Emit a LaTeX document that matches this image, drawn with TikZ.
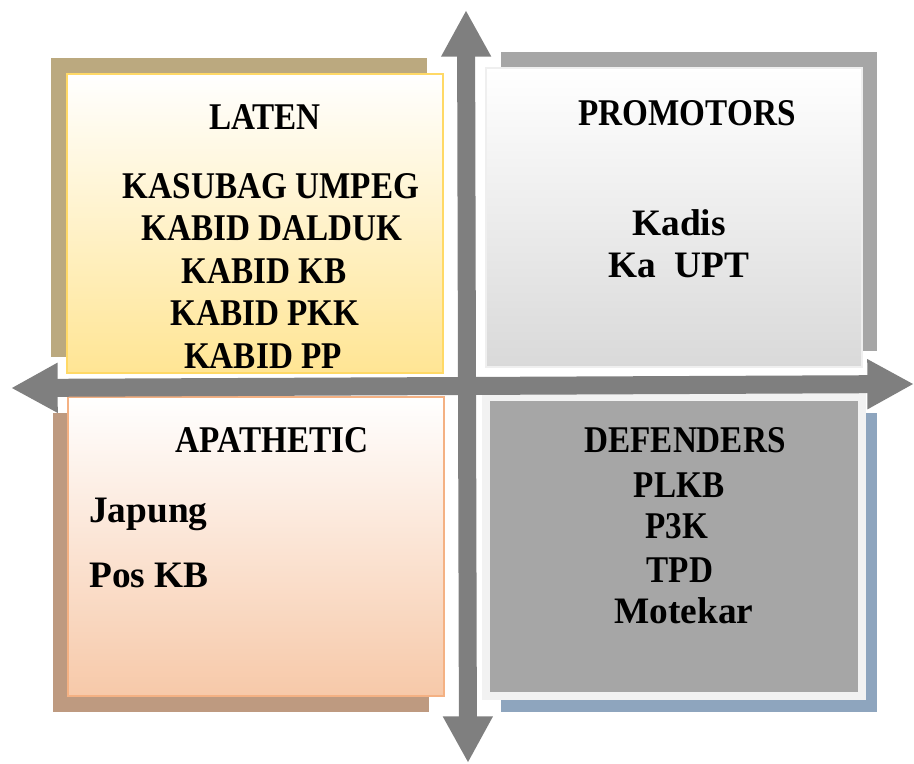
\documentclass[tikz,border=0pt]{standalone}
\usepackage{fontspec}
\setmainfont{Liberation Serif}
\newfontfamily\capsfont{Liberation Serif}[FakeStretch=0.88]
\usetikzlibrary{arrows.meta}
\definecolor{axisgray}{HTML}{7F7F7F}
\definecolor{latenshadow}{HTML}{BBA97F}
\definecolor{latenfill}{HTML}{FFE594}
\definecolor{latenborder}{HTML}{FFD966}
\definecolor{promshadow}{HTML}{A6A6A6}
\definecolor{promfill}{HTML}{D9D9D9}
\definecolor{promborder}{HTML}{EFEFEF}
\definecolor{apashadow}{HTML}{BE9A80}
\definecolor{apafill}{HTML}{F7C9A9}
\definecolor{apaborder}{HTML}{F4B183}
\definecolor{defshadow}{HTML}{8EA5BE}
\definecolor{deffill}{HTML}{A6A6A6}
\definecolor{defframe}{HTML}{F2F2F2}
\begin{document}
\begin{tikzpicture}[x=0.75pt,y=-0.75pt,
  quad/.style={rectangle, inner sep=0pt, minimum width=376*0.75pt, minimum height=299*0.75pt},
  capsline/.style={anchor=base, inner sep=0pt, font=\capsfont\bfseries\fontsize{28.3}{34}\selectfont},
  mixline/.style={anchor=base, inner sep=0pt, font=\bfseries\fontsize{28}{34}\selectfont},
  axis/.style={draw=axisgray, line width=13.5pt,
    {Triangle[width=35pt,length=35pt]}-{Triangle[width=35pt,length=35pt]}}]
\useasboundingbox (0,0) rectangle (914,764);

% shadows
\node[quad, fill=latenshadow] (latensh) at (239,207.5) {};
\node[quad, fill=promshadow] (promsh) at (689,201.5) {};
\node[quad, fill=apashadow] (apash) at (241,562) {};
\node[quad, fill=defshadow] (defsh) at (689,562) {};

% main boxes
\node[quad, top color=white, bottom color=latenfill, draw=latenborder, line width=1.5pt] (latenbox) at (255,223.5) {};
\node[quad, top color=white, bottom color=promfill, draw=promborder, line width=1.5pt] (prombox) at (674,217.5) {};
\node[quad, top color=white, bottom color=apafill, draw=apaborder, line width=1.5pt] (apabox) at (256,546) {};
\node[quad, fill=deffill, draw=defframe, line width=6pt] (defbox) at (674,546) {};

% axes
\coordinate (vtop) at (466,10);
\coordinate (vbot) at (468,763);
\coordinate (hleft) at (11,388);
\coordinate (hright) at (914,384);
\draw[axis] (vbot) -- (vtop);
\draw[axis] (hleft) -- (hright);

% LATEN
\node[capsline] (laten) at (265,129) {LATEN};
\node[capsline] (l1) at (271,198) {KASUBAG UMPEG};
\node[capsline] (l2) at (272,240) {KABID DALDUK};
\node[capsline] (l3) at (264,283) {KABID KB};
\node[capsline] (l4) at (265,325) {KABID PKK};
\node[capsline] (l5) at (263,368) {KABID PP};

% PROMOTORS
\node[capsline] (prom) at (687,125) {PROMOTORS};
\node[mixline] (p1) at (679,235) {Kadis};
\node[mixline] (p2) at (679,277) {Ka\ \ UPT};

% APATHETIC
\node[capsline] (apa) at (272,452) {APATHETIC};
\node[mixline, anchor=base west] (a1) at (89,522) {Japung};
\node[mixline, anchor=base west] (a2) at (89,587) {Pos KB};

% DEFENDERS
\node[capsline] (def) at (685,452) {DEFENDERS};
\node[capsline] (d1) at (679,497) {PLKB};
\node[capsline] (d2) at (677,538) {P3K};
\node[capsline] (d3) at (680,582) {TPD};
\node[mixline] (d4) at (684,623) {Motekar};
\end{tikzpicture}
\end{document}
